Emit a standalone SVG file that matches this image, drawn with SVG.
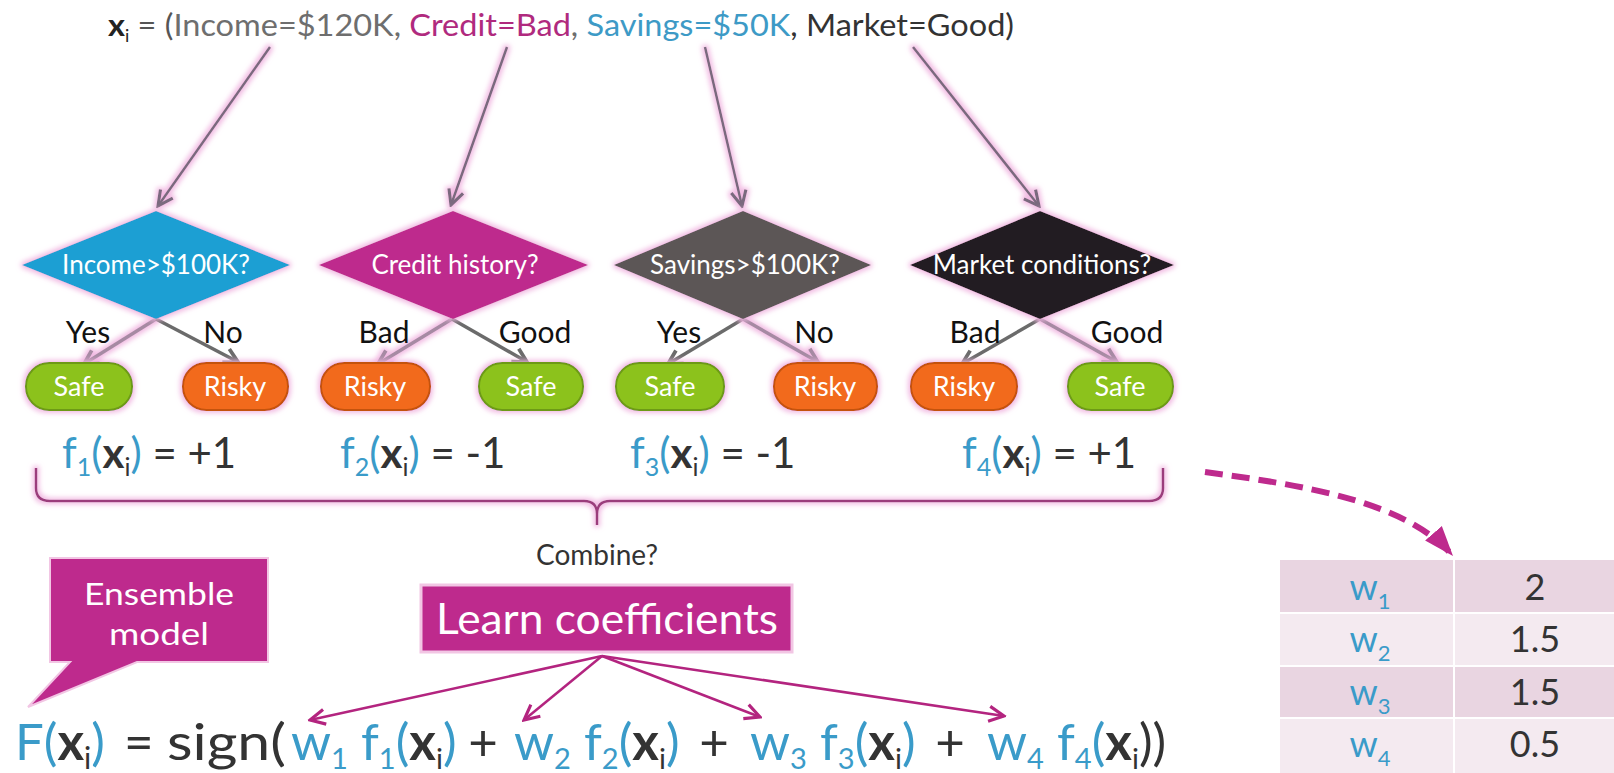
<svg xmlns="http://www.w3.org/2000/svg" width="1614" height="773" viewBox="0 0 1614 773">
<defs>
<style>
text { font-family: Lato, "Open Sans", "Liberation Sans", sans-serif; }
.dtext { fill:#fff; font-size:26px; text-anchor:middle; }
.ptext { fill:#fff; font-size:27px; text-anchor:middle; }
.blabel { fill:#111; font-size:30px; text-anchor:middle; }
.tarrow { stroke:#7a6a7e; stroke-width:2.5; fill:none; marker-end:url(#openGray); }
.branch { stroke:#6b6b6b; stroke-width:3.5; fill:none; marker-end:url(#branchGray); }
.branch.pink { stroke:#a68aa3; marker-end:url(#branchPink); }
.marrow { stroke:#b3247f; stroke-width:2.5; fill:none; marker-end:url(#openMag); }
.safe { fill:#8cc21e; stroke:#6d9a16; stroke-width:2; }
.risky { fill:#f26a1b; stroke:#c4520f; stroke-width:2; }
.bl { fill:#3a9bc9; }
.dk { fill:#333333; }
.row1 { fill:#e9d5e1; }
.row2 { fill:#f4eaf0; }
.cell { font-size:36px; text-anchor:middle; }
.fm { font-size:51px; }
</style>
<filter id="glow" x="-10%" y="-20%" width="120%" height="140%">
<feMorphology in="SourceAlpha" operator="dilate" radius="2" result="d"/>
<feGaussianBlur in="d" stdDeviation="2.5" result="b"/>
<feFlood flood-color="#f0b4e0" flood-opacity="0.9"/>
<feComposite in2="b" operator="in" result="g"/>
<feMerge><feMergeNode in="g"/><feMergeNode in="SourceGraphic"/></feMerge>
</filter>
<marker id="openGray" markerUnits="userSpaceOnUse" markerWidth="20" markerHeight="20" refX="14" refY="8" orient="auto" viewBox="0 0 16 16"><path d="M2,2 L14,8 L2,14" fill="none" stroke="#7a6a7e" stroke-width="2.5"/></marker>
<marker id="branchGray" markerUnits="userSpaceOnUse" markerWidth="20" markerHeight="20" refX="14" refY="8" orient="auto" viewBox="0 0 16 16"><path d="M3,2 L14,8 L3,14" fill="none" stroke="#6b6b6b" stroke-width="3"/></marker>
<marker id="branchPink" markerUnits="userSpaceOnUse" markerWidth="20" markerHeight="20" refX="14" refY="8" orient="auto" viewBox="0 0 16 16"><path d="M3,2 L14,8 L3,14" fill="none" stroke="#a68aa3" stroke-width="3"/></marker>
<marker id="openMag" markerUnits="userSpaceOnUse" markerWidth="20" markerHeight="20" refX="14" refY="8" orient="auto" viewBox="0 0 16 16"><path d="M2,2 L14,8 L2,14" fill="none" stroke="#b3247f" stroke-width="2.5"/></marker>
<marker id="dashHead" markerUnits="userSpaceOnUse" markerWidth="34" markerHeight="30" refX="30" refY="12" orient="auto" viewBox="0 0 34 24"><path d="M0,1 L30,12 L0,23 Z" fill="#be2a8d"/></marker>
</defs>

<rect width="1614" height="773" fill="#ffffff"/>

<g id="title">
<text x="108" y="36" font-size="31" textLength="906" lengthAdjust="spacingAndGlyphs"><tspan font-weight="bold" fill="#222">x</tspan><tspan font-size="17" dy="6" fill="#222">i</tspan><tspan dy="-6" fill="#555"> = (</tspan><tspan fill="#6e6e6e">Income=$120K, </tspan><tspan fill="#b02a7e">Credit=Bad</tspan><tspan fill="#6e6e6e">, </tspan><tspan fill="#3d9ac6">Savings=$50K</tspan><tspan fill="#333">, Market=Good)</tspan></text>
</g>

<g id="connectors">
<g filter="url(#glow)">
<line class="tarrow" x1="270" y1="47" x2="158" y2="206"/>
<line class="tarrow" x1="507" y1="47" x2="451" y2="205"/>
<line class="tarrow" x1="705" y1="47" x2="742" y2="206"/>
<line class="tarrow" x1="913" y1="47" x2="1039" y2="206"/>
</g>
<line class="branch pink" x1="156" y1="319" x2="84" y2="364" filter="url(#glow)"/>
<line class="branch" x1="156" y1="319" x2="238" y2="362"/>
<line class="branch pink" x1="452" y1="319" x2="378" y2="364" filter="url(#glow)"/>
<line class="branch" x1="452" y1="319" x2="527" y2="362"/>
<line class="branch" x1="743" y1="319" x2="668" y2="364"/>
<line class="branch pink" x1="743" y1="319" x2="818" y2="362" filter="url(#glow)"/>
<line class="branch" x1="1040" y1="319" x2="962" y2="364"/>
<line class="branch pink" x1="1040" y1="319" x2="1117" y2="362" filter="url(#glow)"/>
<path id="brace" d="M36,468 L36,488 Q36,501 50,501 L584,501 Q597,501 597,514 L597,525 M597,514 Q597,501 610,501 L1149,501 Q1163,501 1163,488 L1163,468" fill="none" stroke="#9b3c7c" stroke-width="2.5" filter="url(#glow)"/>
<line class="marrow" x1="602" y1="656" x2="310" y2="720"/>
<line class="marrow" x1="602" y1="656" x2="524" y2="720"/>
<line class="marrow" x1="602" y1="656" x2="760" y2="717"/>
<line class="marrow" x1="602" y1="656" x2="1004" y2="716"/>
<path d="M1205,472 C1300,485 1405,500 1453,556" fill="none" stroke="#be2a8d" stroke-width="6" stroke-dasharray="18 9" marker-end="url(#dashHead)"/>
</g>

<g id="tree1">
<polygon points="22,265 156,211 290,265 156,319" fill="#1b9fd3" filter="url(#glow)"/>
<text class="dtext" x="156" y="274">Income&gt;$100K?</text>
<text class="blabel" x="88" y="343">Yes</text>
<text class="blabel" x="223" y="343">No</text>
</g>
<g id="tree2">
<polygon points="319,265 453,211 588,265 453,319" fill="#be2a8d" filter="url(#glow)"/>
<text class="dtext" x="455" y="274">Credit history?</text>
<text class="blabel" x="384" y="343">Bad</text>
<text class="blabel" x="535" y="343">Good</text>
</g>
<g id="tree3">
<polygon points="614,265 743,211 871,265 743,319" fill="#5b5757" filter="url(#glow)"/>
<text class="dtext" x="745" y="274">Savings&gt;$100K?</text>
<text class="blabel" x="679" y="343">Yes</text>
<text class="blabel" x="814" y="343">No</text>
</g>
<g id="tree4">
<polygon points="910,265 1040,211 1174,265 1040,319" fill="#231f20" filter="url(#glow)"/>
<text class="dtext" x="1042" y="274">Market conditions?</text>
<text class="blabel" x="975" y="343">Bad</text>
<text class="blabel" x="1127" y="343">Good</text>
</g>

<g id="leaves">
<g id="safe1"><rect class="safe" x="26" y="363" width="106" height="47" rx="23" filter="url(#glow)"/><text class="ptext" x="79" y="396">Safe</text></g>
<g id="risky1"><rect class="risky" x="183" y="363" width="105" height="47" rx="23" filter="url(#glow)"/><text class="ptext" x="235" y="396">Risky</text></g>
<g id="risky2"><rect class="risky" x="321" y="363" width="109" height="47" rx="23" filter="url(#glow)"/><text class="ptext" x="375" y="396">Risky</text></g>
<g id="safe2"><rect class="safe" x="479" y="363" width="104" height="47" rx="23" filter="url(#glow)"/><text class="ptext" x="531" y="396">Safe</text></g>
<g id="safe3"><rect class="safe" x="616" y="363" width="108" height="47" rx="23" filter="url(#glow)"/><text class="ptext" x="670" y="396">Safe</text></g>
<g id="risky3"><rect class="risky" x="774" y="363" width="103" height="47" rx="23" filter="url(#glow)"/><text class="ptext" x="825" y="396">Risky</text></g>
<g id="risky4"><rect class="risky" x="911" y="363" width="106" height="47" rx="23" filter="url(#glow)"/><text class="ptext" x="964" y="396">Risky</text></g>
<g id="safe4"><rect class="safe" x="1068" y="363" width="105" height="47" rx="23" filter="url(#glow)"/><text class="ptext" x="1120" y="396">Safe</text></g>
</g>

<g id="outputs" font-size="42">
<text x="62" y="468"><tspan class="bl">f</tspan><tspan class="bl" font-size="25" dy="8">1</tspan><tspan class="bl" dy="-8">(</tspan><tspan class="dk" font-weight="bold">x</tspan><tspan class="dk" font-size="25" dy="8">i</tspan><tspan class="bl" dy="-8">)</tspan><tspan class="dk"> = +1</tspan></text>
<text x="340" y="468"><tspan class="bl">f</tspan><tspan class="bl" font-size="25" dy="8">2</tspan><tspan class="bl" dy="-8">(</tspan><tspan class="dk" font-weight="bold">x</tspan><tspan class="dk" font-size="25" dy="8">i</tspan><tspan class="bl" dy="-8">)</tspan><tspan class="dk"> = -1</tspan></text>
<text x="630" y="468"><tspan class="bl">f</tspan><tspan class="bl" font-size="25" dy="8">3</tspan><tspan class="bl" dy="-8">(</tspan><tspan class="dk" font-weight="bold">x</tspan><tspan class="dk" font-size="25" dy="8">i</tspan><tspan class="bl" dy="-8">)</tspan><tspan class="dk"> = -1</tspan></text>
<text x="962" y="468"><tspan class="bl">f</tspan><tspan class="bl" font-size="25" dy="8">4</tspan><tspan class="bl" dy="-8">(</tspan><tspan class="dk" font-weight="bold">x</tspan><tspan class="dk" font-size="25" dy="8">i</tspan><tspan class="bl" dy="-8">)</tspan><tspan class="dk"> = +1</tspan></text>
</g>

<g id="combine">
<text x="597" y="565" font-size="28" fill="#333" text-anchor="middle">Combine?</text>
</g>

<g id="ensemble">
<path d="M50,558 L268,558 L268,662 L137,662 L28,707 L70,662 L50,662 Z" fill="#be2a8d" stroke="#f2c6e4" stroke-width="2"/>
<text x="159" y="605" font-size="31" fill="#fff" text-anchor="middle" textLength="150" lengthAdjust="spacingAndGlyphs">Ensemble</text>
<text x="159" y="645" font-size="31" fill="#fff" text-anchor="middle" textLength="100" lengthAdjust="spacingAndGlyphs">model</text>
</g>

<g id="learn">
<rect x="421" y="585" width="371" height="67" fill="#be2a8d" stroke="#f2c6e4" stroke-width="3"/>
<text x="607" y="634" font-size="42" fill="#fff" text-anchor="middle" textLength="342" lengthAdjust="spacingAndGlyphs">Learn coefficients</text>
</g>

<g id="formula" class="fm">
<text x="15" y="760"><tspan class="bl">F(</tspan><tspan class="dk" font-weight="bold">x</tspan><tspan class="dk" font-size="30" dy="9">i</tspan><tspan class="bl" dy="-9">)</tspan></text>
<text x="124" y="760" class="dk">=</text>
<text x="167" y="760" class="dk" textLength="119" lengthAdjust="spacingAndGlyphs">sign(</text>
<text x="291" y="760"><tspan class="bl">w</tspan><tspan class="bl" font-size="29" dy="9">1</tspan><tspan class="bl" dy="-9"> f</tspan><tspan class="bl" font-size="29" dy="9">1</tspan><tspan class="bl" dy="-9">(</tspan><tspan class="dk" font-weight="bold">x</tspan><tspan class="dk" font-size="29" dy="9">i</tspan><tspan class="bl" dy="-9">)</tspan></text>
<text x="483" y="760" class="dk" text-anchor="middle">+</text>
<text x="514" y="760"><tspan class="bl">w</tspan><tspan class="bl" font-size="29" dy="9">2</tspan><tspan class="bl" dy="-9"> f</tspan><tspan class="bl" font-size="29" dy="9">2</tspan><tspan class="bl" dy="-9">(</tspan><tspan class="dk" font-weight="bold">x</tspan><tspan class="dk" font-size="29" dy="9">i</tspan><tspan class="bl" dy="-9">)</tspan></text>
<text x="714" y="760" class="dk" text-anchor="middle">+</text>
<text x="750" y="760"><tspan class="bl">w</tspan><tspan class="bl" font-size="29" dy="9">3</tspan><tspan class="bl" dy="-9"> f</tspan><tspan class="bl" font-size="29" dy="9">3</tspan><tspan class="bl" dy="-9">(</tspan><tspan class="dk" font-weight="bold">x</tspan><tspan class="dk" font-size="29" dy="9">i</tspan><tspan class="bl" dy="-9">)</tspan></text>
<text x="950" y="760" class="dk" text-anchor="middle">+</text>
<text x="987" y="760"><tspan class="bl">w</tspan><tspan class="bl" font-size="29" dy="9">4</tspan><tspan class="bl" dy="-9"> f</tspan><tspan class="bl" font-size="29" dy="9">4</tspan><tspan class="bl" dy="-9">(</tspan><tspan class="dk" font-weight="bold">x</tspan><tspan class="dk" font-size="29" dy="9">i</tspan><tspan class="dk" dy="-9">))</tspan></text>
</g>

<g id="weights">
<rect class="row1" x="1280" y="560" width="334" height="52"/>
<rect class="row2" x="1280" y="614" width="334" height="51"/>
<rect class="row1" x="1280" y="667" width="334" height="50"/>
<rect class="row2" x="1280" y="719" width="334" height="54"/>
<line x1="1454" y1="560" x2="1454" y2="773" stroke="#ffffff" stroke-width="2"/>
<text class="cell" x="1370" y="600"><tspan class="bl">w</tspan><tspan class="bl" font-size="22" dy="9">1</tspan></text>
<text class="cell" x="1370" y="652"><tspan class="bl">w</tspan><tspan class="bl" font-size="22" dy="9">2</tspan></text>
<text class="cell" x="1370" y="705"><tspan class="bl">w</tspan><tspan class="bl" font-size="22" dy="9">3</tspan></text>
<text class="cell" x="1370" y="757"><tspan class="bl">w</tspan><tspan class="bl" font-size="22" dy="9">4</tspan></text>
<text class="cell dk" x="1535" y="600">2</text>
<text class="cell dk" x="1535" y="652">1.5</text>
<text class="cell dk" x="1535" y="705">1.5</text>
<text class="cell dk" x="1535" y="757">0.5</text>
</g>
</svg>
